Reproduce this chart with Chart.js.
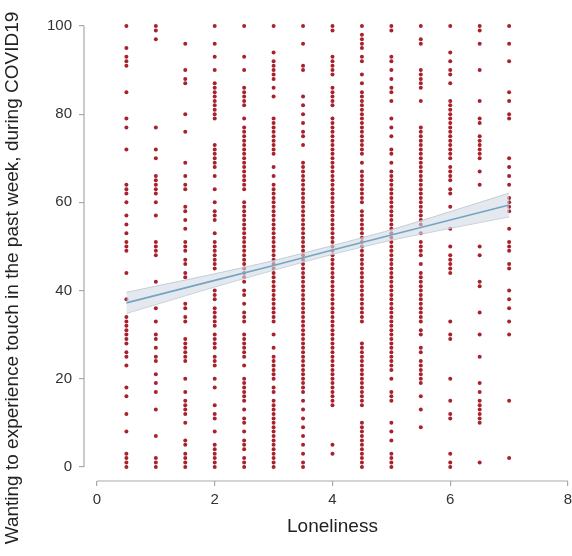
<!DOCTYPE html>
<html>
<head>
<meta charset="utf-8">
<script src="https://cdn.jsdelivr.net/npm/chart.js@4.4.1/dist/chart.umd.min.js"></script>
<style>
html,body{margin:0;padding:0;background:#fff;}
#wrap{width:572px;height:556px;position:relative;}
</style>
</head>
<body>
<div id="wrap"><canvas id="c" width="572" height="556"></canvas></div>
<script>
// ---- data ----
const lonelinessLevels = [0.5, 1, 1.5, 2, 2.5, 3, 3.5, 4, 4.5, 5, 5.5, 6, 6.5, 7];

const touch05 = [100,95,93,92,91,85,79,77,72,64,63,62,60,57,55,53,51,50,49,44,38,34,33,32,31,30,29,28,26,25,23,18,16,12,8,3,2,1,0];
const touch10 = [100,99,97,77,72,70,66,65,64,63,62,60,57,51,50,49,48,42,36,33,30,29,27,25,24,21,19,17,13,7,2,1,0];
const touch15 = [96,90,88,87,80,76,69,66,64,63,59,58,56,54,51,50,49,47,46,44,43,37,36,34,33,29,28,27,26,25,24,20,17,15,14,13,12,10,6,5,3,2,1,0];
const touch20 = [100,96,93,90,87,86,85,84,83,82,81,80,79,73,72,71,70,69,68,66,63,60,58,57,56,53,51,50,49,48,47,46,45,40,39,38,36,35,34,33,32,30,29,28,27,25,24,23,20,18,14,12,11,8,5,4,3,2,1,0];
const touch25 = [100,93,90,86,85,84,83,82,79,77,76,75,74,73,72,71,70,69,68,67,66,65,64,63,60,59,58,57,56,55,54,53,52,51,50,49,48,47,46,45,44,43,42,40,39,37,35,34,33,30,29,28,27,26,25,23,20,19,18,17,16,15,13,11,10,8,6,5,4,2,1,0];
const touch30 = [100,94,92,91,90,89,88,86,84,79,78,77,76,75,74,73,72,71,68,66,64,63,62,61,60,59,58,57,56,55,54,53,52,51,50,49,48,47,46,45,44,43,42,41,40,39,38,37,36,35,34,33,30,27,25,24,23,22,21,20,18,17,15,14,13,12,11,10,9,8,7,6,5,4,3,2,1,0];
const touch35 = [100,96,91,90,84,82,80,78,76,75,73,69,68,67,66,65,64,63,62,61,60,59,58,57,56,55,54,53,52,51,50,49,48,47,46,45,44,43,42,41,40,39,38,37,36,35,34,33,32,31,30,29,28,27,26,25,24,23,22,21,20,19,18,17,15,13,11,9,7,5,3,1,0];
const touch40 = [100,99,93,92,91,90,89,86,85,84,83,82,79,78,77,76,75,74,73,72,71,70,69,68,67,66,65,64,63,62,61,60,59,58,57,56,55,54,53,52,51,50,49,48,47,46,45,44,43,42,41,40,39,38,37,36,35,34,33,32,31,30,29,28,27,26,25,24,23,22,21,20,19,18,17,16,15,14,5,3];
const touch45 = [100,98,97,96,95,93,92,89,87,85,84,83,82,81,80,79,78,77,76,75,74,73,72,71,69,67,66,65,64,63,62,61,60,58,57,56,55,54,53,52,51,50,49,48,47,46,45,44,43,42,41,40,39,38,37,36,35,34,33,28,27,26,25,24,23,22,21,20,19,18,17,16,15,14,10,9,8,7,6,5,4,3,2,1,0];
const touch50 = [100,99,93,92,90,88,86,85,83,79,77,75,72,71,69,67,66,65,64,63,62,61,60,59,58,57,56,55,54,53,52,51,50,49,48,47,46,45,44,43,42,41,40,39,38,37,36,35,34,33,32,31,30,29,28,27,26,25,24,23,22,20,17,16,15,10,8,6,3,2,1,0];
const touch55 = [100,97,96,90,89,88,87,86,83,77,76,75,74,73,72,71,70,69,68,67,66,65,64,63,62,61,60,59,58,57,56,55,53,51,50,49,48,46,44,43,42,41,40,39,38,37,36,35,34,33,31,30,27,26,24,23,22,21,20,19,16,13,9];
const touch60 = [100,94,92,90,89,87,83,82,81,80,79,78,77,76,75,74,73,72,71,70,68,67,66,65,63,62,59,54,50,48,47,46,45,44,33,30,29,20,15,12,11,3,1,0];
const touch65 = [100,99,96,90,83,79,78,75,74,73,72,71,70,67,64,50,48,42,41,35,30,25,19,17,15,14,13,12,11,10,1];
const touch70 = [100,96,92,85,83,80,79,70,68,66,64,61,60,59,58,54,51,50,49,46,45,40,38,36,33,30,15,2];

const touchColumns = [touch05,touch10,touch15,touch20,touch25,touch30,touch35,touch40,touch45,touch50,touch55,touch60,touch65,touch70];

// fitted regression line and 95% CI band
const fitX     = [0.5, 1, 2, 3, 4, 5, 6, 7];
const fitY     = [37.2, 38.9, 42.3, 45.7, 49.2, 52.6, 56.0, 59.4];
const ciUpper  = [39.6, 41.0, 43.8, 46.8, 50.2, 53.8, 57.9, 62.1];
const ciLower  = [34.8, 36.8, 40.8, 44.6, 48.2, 51.4, 54.1, 56.7];

const xTicks = [0, 2, 4, 6, 8];
const yTicks = [0, 20, 40, 60, 80, 100];

const xTitle = 'Loneliness';
const yTitle = 'Wanting to experience touch in the past week, during COVID19';

// ---- build datasets ----
const scatterPts = [];
lonelinessLevels.forEach((lx, i) => {
  touchColumns[i].forEach(v => scatterPts.push({x: lx, y: v}));
});
const toXY = (xs, ys) => xs.map((x, i) => ({x: x, y: ys[i]}));

const FONT = '"Liberation Sans", Arial, Helvetica, sans-serif';

const axisPlugin = {
  id: 'stataAxes',
  afterDraw(chart) {
    const ctx = chart.ctx;
    const xs = chart.scales.x, ys = chart.scales.y;
    const ca = chart.chartArea;
    ctx.save();
    ctx.strokeStyle = '#a9a9a9';
    ctx.lineWidth = 1.2;
    ctx.beginPath();
    ctx.moveTo(ca.left, ys.getPixelForValue(yTicks[yTicks.length-1]));
    ctx.lineTo(ca.left, ys.getPixelForValue(yTicks[0]));
    ctx.moveTo(xs.getPixelForValue(xTicks[0]), ca.bottom);
    ctx.lineTo(xs.getPixelForValue(xTicks[xTicks.length-1]), ca.bottom);
    ctx.stroke();
    // titles
    ctx.fillStyle = '#222';
    ctx.font = '19px ' + FONT;
    ctx.textAlign = 'center';
    ctx.textBaseline = 'middle';
    ctx.fillText(xTitle, (xs.getPixelForValue(0) + xs.getPixelForValue(8)) / 2, 527);
    ctx.translate(13, 278);
    ctx.rotate(-Math.PI / 2);
    ctx.fillText(yTitle, 0, 0);
    ctx.restore();
  }
};

new Chart(document.getElementById('c'), {
  type: 'scatter',
  data: {
    datasets: [
      {
        label: 'upper',
        type: 'line',
        data: toXY(fitX, ciUpper),
        borderColor: 'rgba(190,202,212,0.9)',
        borderWidth: 1,
        backgroundColor: 'rgba(208,218,226,0.6)',
        pointRadius: 0,
        fill: '+1',
        tension: 0.3,
        order: 2,
        clip: false
      },
      {
        label: 'lower',
        type: 'line',
        data: toXY(fitX, ciLower),
        borderColor: 'rgba(190,202,212,0.9)',
        borderWidth: 1,
        pointRadius: 0,
        fill: false,
        tension: 0.3,
        order: 2,
        clip: false
      },
      {
        label: 'fit',
        type: 'line',
        data: toXY(fitX, fitY),
        borderColor: '#76a4c2',
        borderWidth: 1.6,
        pointRadius: 0,
        fill: false,
        order: 1,
        clip: false
      },
      {
        label: 'obs',
        data: scatterPts,
        backgroundColor: '#a8222e',
        borderWidth: 0,
        pointRadius: 2,
        order: 3,
        clip: false
      }
    ]
  },
  options: {
    responsive: false,
    animation: false,
    events: [],
    layout: { padding: { top: 26, right: 4, left: 0, bottom: 0 } },
    plugins: { legend: { display: false }, tooltip: { enabled: false } },
    scales: {
      x: {
        type: 'linear',
        min: -0.22,
        max: 8,
        afterBuildTicks: s => { s.ticks = xTicks.map(v => ({value: v})); },
        afterFit: s => { s.height = 75; s.paddingLeft = 0; s.paddingRight = 0; },
        border: { display: false },
        grid: { drawOnChartArea: false, drawTicks: true, tickLength: 5, color: '#a9a9a9', lineWidth: 1.2 },
        ticks: { color: '#333', font: { size: 15, family: FONT }, padding: 5, maxRotation: 0 }
      },
      y: {
        type: 'linear',
        min: -3.2,
        max: 100,
        afterBuildTicks: s => { s.ticks = yTicks.map(v => ({value: v})); },
        afterFit: s => { s.width = 84; s.paddingTop = 0; s.paddingBottom = 0; },
        border: { display: false },
        grid: { drawOnChartArea: false, drawTicks: true, tickLength: 5, color: '#a9a9a9', lineWidth: 1.2 },
        ticks: { color: '#333', font: { size: 15, family: FONT }, padding: 7 }
      }
    }
  },
  plugins: [axisPlugin]
});
</script>
</body>
</html>
